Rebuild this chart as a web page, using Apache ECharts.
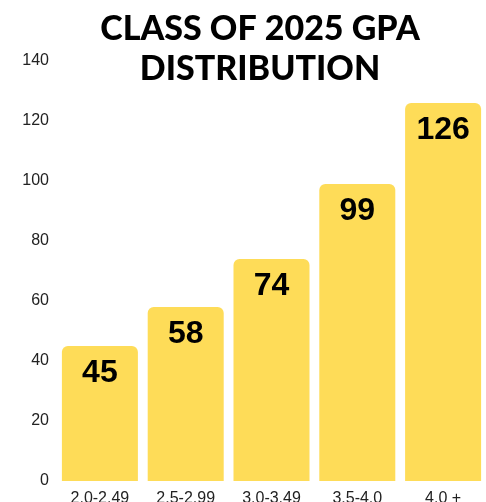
<!DOCTYPE html>
<html><head><meta charset="utf-8">
<script src="https://cdn.jsdelivr.net/npm/echarts@6/dist/echarts.min.js"></script>
<style>html,body{margin:0;padding:0;background:#fff}#c{width:486px;height:502px}</style>
</head><body><div id="c"></div>
<script>
const categories = ['2.0-2.49', '2.5-2.99', '3.0-3.49', '3.5-4.0', '4.0 +'];
const values = [45, 58, 74, 99, 126];
const yTicks = [0, 20, 40, 60, 80, 100, 120, 140];
const titleText = 'CLASS OF 2025 GPA\nDISTRIBUTION';

const chart = echarts.init(document.getElementById('c'), null, {renderer: 'canvas'});
chart.setOption({
  animation: false,
  backgroundColor: '#ffffff',
  graphic: [{
    type: 'text', x: 260, y: 9,
    style: {text: titleText, fontFamily: 'Lato', fontWeight: 900, fontSize: 34, lineHeight: 40,
            fill: '#000', align: 'center', verticalAlign: 'top'}
  }],
  grid: {left: 57, right: 0, top: 61, bottom: 21, outerBoundsMode: 'none', containLabel: false},
  xAxis: {
    type: 'category', data: categories,
    axisLine: {show: false}, axisTick: {show: false},
    axisLabel: {margin: 10, fontSize: 16, color: '#222', fontFamily: 'Liberation Sans'}
  },
  yAxis: {
    type: 'value', min: yTicks[0], max: yTicks[yTicks.length - 1], interval: 20,
    splitLine: {show: false}, axisLine: {show: false}, axisTick: {show: false},
    axisLabel: {margin: 8, fontSize: 16, color: '#222', fontFamily: 'Liberation Sans'}
  },
  series: [{
    type: 'bar', data: values, barWidth: 76,
    itemStyle: {color: '#FEDC58', borderRadius: [6, 6, 0, 0]},
    label: {show: true, position: 'insideTop', distance: 11, fontSize: 32, fontWeight: 'bold', color: '#000', fontFamily: 'Liberation Sans'}
  }]
});
</script></body></html>
